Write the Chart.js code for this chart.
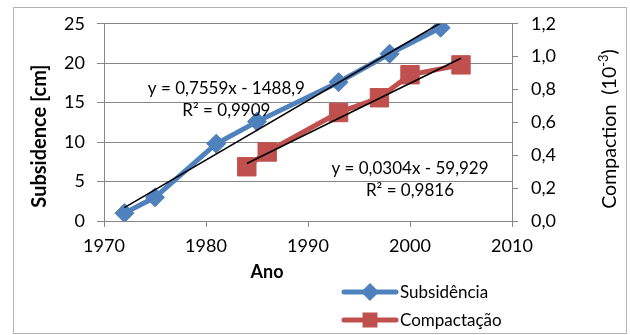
<!DOCTYPE html>
<html>
<head>
<meta charset="utf-8">
<script src="https://cdn.jsdelivr.net/npm/chart.js"></script>
<style>
  html, body { margin: 0; padding: 0; background: #fff; }
</style>
</head>
<body>
<canvas id="myChart" width="630" height="335"></canvas>
<script>
// values
const subYears = [1972, 1975, 1981, 1985, 1993, 1998, 2003];
const subValues = [1.0, 3.0, 9.8, 12.6, 17.6, 21.2, 24.5];
const compYears = [1984, 1986, 1993, 1997, 2000, 2005];
const compValues = [0.33, 0.42, 0.66, 0.75, 0.89, 0.95];
// trendline end points
const subTrendYears = [1972, 2003];
const subTrendValues = [1.7, 25.1];
const compTrendYears = [1984, 2005];
const compTrendValues = [0.35, 0.99];
// ticks
const xTicks = [1970, 1980, 1990, 2000, 2010];
const yTicks = [0, 5, 10, 15, 20, 25];
const y1Ticks = [0, 0.2, 0.4, 0.6, 0.8, 1.0, 1.2];
const y1Labels = ["0,0", "0,2", "0,4", "0,6", "0,8", "1,0", "1,2"];
const seriesNames = ["Subsidência", "Compactação"];
const eqSub = ["y = 0,7559x - 1488,9", "R² = 0,9909"];
const eqComp = ["y = 0,0304x - 59,929", "R² = 0,9816"];

const BLUE = "#4F81BD";
const RED = "#C0504D";
const GRID = "#868686";
const FONT = "Lato";

function pts(xs, ys) {
  return xs.map((x, i) => ({ x: x, y: ys[i] }));
}

// pick a font size so the text spans about `len` px
function fitSize(ctx, text, weight, len) {
  ctx.font = weight + " 20px " + FONT;
  return Math.min(20, 20 * len / ctx.measureText(text).width);
}

const extras = {
  id: "extras",
  afterDraw(chart) {
    const ctx = chart.ctx;
    const sx = chart.scales.x, sy = chart.scales.y;
    ctx.save();
    // outer frame
    ctx.strokeStyle = "#b4b4b4";
    ctx.lineWidth = 1;
    ctx.strokeRect(13.5, 7.5, 613, 326);

    ctx.fillStyle = "#000";
    ctx.textAlign = "center";
    ctx.textBaseline = "middle";
    ctx.font = "17px " + FONT;
    // trendline equations
    let px = sx.getPixelForValue(1982), py = sy.getPixelForValue(16.8);
    ctx.fillText(eqSub[0], px, py);
    ctx.fillText(eqSub[1], px, py + 22);
    px = sx.getPixelForValue(2000); py = sy.getPixelForValue(6.7);
    ctx.fillText(eqComp[0], px, py);
    ctx.fillText(eqComp[1], px, py + 22);

    // axis titles
    ctx.font = "bold 18px " + FONT;
    ctx.fillText("Ano", 267, 272);

    ctx.save();
    ctx.translate(40, 136);
    ctx.rotate(-Math.PI / 2);
    const ls = fitSize(ctx, "Subsidence [cm]", "bold", 150);
    ctx.font = "bold " + ls + "px " + FONT;
    ctx.fillText("Subsidence [cm]", 0, 0);
    ctx.restore();

    ctx.save();
    ctx.translate(610, 129);
    ctx.rotate(-Math.PI / 2);
    ctx.textAlign = "left";
    const main = "Compaction  (10";
    const sup = "-3";
    const rs = fitSize(ctx, main + "-3)", "", 166);
    ctx.font = rs + "px " + FONT;
    const w1 = ctx.measureText(main).width;
    const w3 = ctx.measureText(")").width;
    ctx.font = Math.round(rs * 0.65) + "px " + FONT;
    const w2 = ctx.measureText(sup).width;
    let x0 = -(w1 + w2 + w3) / 2;
    ctx.font = rs + "px " + FONT;
    ctx.fillText(main, x0, 0);
    ctx.fillText(")", x0 + w1 + w2, 0);
    ctx.font = Math.round(rs * 0.65) + "px " + FONT;
    ctx.fillText(sup, x0 + w1, -6);
    ctx.restore();

    // legend
    const items = [
      { color: BLUE, style: "rectRot", r: 5.5, y: 292 },
      { color: RED, style: "rect", r: 7, y: 320 }
    ];
    ctx.textAlign = "left";
    ctx.font = "17px " + FONT;
    items.forEach((it, i) => {
      ctx.strokeStyle = it.color;
      ctx.lineWidth = 5;
      ctx.lineCap = "round";
      ctx.beginPath();
      ctx.moveTo(344, it.y);
      ctx.lineTo(396, it.y);
      ctx.stroke();
      ctx.fillStyle = it.color;
      Chart.helpers.drawPoint(ctx, { pointStyle: it.style, radius: it.r, rotation: 0, borderWidth: 1 }, 370, it.y);
      ctx.fill();
      ctx.fillStyle = "#000";
      ctx.fillText(seriesNames[i], 400, it.y + 1);
    });
    ctx.restore();
  }
};

const ctx = document.getElementById("myChart");

const chart = new Chart(ctx, {
  type: "line",
  data: {
    datasets: [
      {
        label: "trend1",
        data: pts(subTrendYears, subTrendValues),
        yAxisID: "y",
        borderColor: "#000",
        borderWidth: 1.6,
        pointRadius: 0,
        order: 0
      },
      {
        label: "trend2",
        data: pts(compTrendYears, compTrendValues),
        yAxisID: "y1",
        borderColor: "#000",
        borderWidth: 1.6,
        pointRadius: 0,
        order: 0
      },
      {
        label: seriesNames[0],
        data: pts(subYears, subValues),
        yAxisID: "y",
        borderColor: BLUE,
        backgroundColor: BLUE,
        borderWidth: 5,
        pointStyle: "rectRot",
        pointRadius: 9.5,
        pointBorderWidth: 1,
        order: 1
      },
      {
        label: seriesNames[1],
        data: pts(compYears, compValues),
        yAxisID: "y1",
        borderColor: RED,
        backgroundColor: RED,
        borderWidth: 5,
        pointStyle: "rect",
        pointRadius: 13,
        pointBorderWidth: 1,
        order: 1
      }
    ]
  },
  options: {
    responsive: false,
    animation: false,
    layout: { padding: { top: 23 } },
    plugins: {
      legend: { display: false },
      tooltip: { enabled: false }
    },
    scales: {
      x: {
        type: "linear",
        min: 1970,
        max: 2010,
        afterBuildTicks: (s) => { s.ticks = xTicks.map((v) => ({ value: v })); },
        afterFit: (s) => { s.height = 114; },
        grid: { drawOnChartArea: false, color: GRID, tickLength: 6 },
        border: { color: GRID },
        ticks: {
          color: "#000",
          font: { family: FONT, size: 18 },
          padding: 8,
          maxRotation: 0,
          callback: (v) => String(v)
        }
      },
      y: {
        position: "left",
        min: 0,
        max: 25,
        afterBuildTicks: (s) => { s.ticks = yTicks.map((v) => ({ value: v })); },
        afterFit: (s) => { s.width = 104; },
        grid: { color: GRID, tickLength: 7 },
        border: { color: GRID },
        ticks: {
          color: "#000",
          font: { family: FONT, size: 18 },
          padding: 12,
          callback: (v) => String(v)
        }
      },
      y1: {
        position: "right",
        min: 0,
        max: 1.2,
        afterBuildTicks: (s) => { s.ticks = y1Ticks.map((v) => ({ value: v })); },
        afterFit: (s) => { s.width = 118; },
        grid: { drawOnChartArea: false, color: GRID, tickLength: 6 },
        border: { color: GRID },
        ticks: {
          color: "#000",
          font: { family: FONT, size: 18 },
          padding: 13,
          callback: (v, i) => y1Labels[i]
        }
      }
    }
  },
  plugins: [extras]
});
</script>
</body>
</html>
